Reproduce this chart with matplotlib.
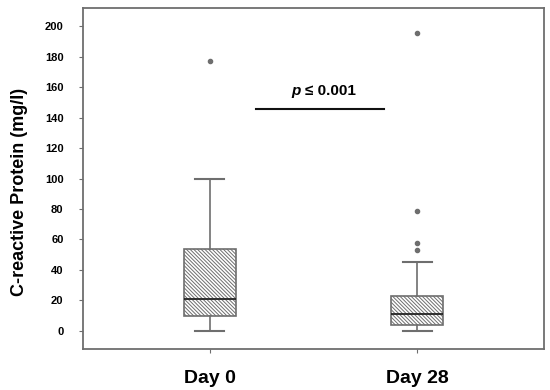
import matplotlib.pyplot as plt

plt.rcParams['font.family'] = ['Liberation Sans', 'DejaVu Sans']
plt.rcParams['hatch.color'] = '#555555'
plt.rcParams['hatch.linewidth'] = 0.7

# data
groups = ['Day 0', 'Day 28']
q1 = [10, 4]
med = [21, 11]
q3 = [54, 23]
whislo = [0, 0]
whishi = [100, 45]
fliers = [[177.5], [53, 57.5, 79, 195.5]]
p_level = 146

stats = []
for i, g in enumerate(groups):
    stats.append(dict(label=g, q1=q1[i], med=med[i], q3=q3[i],
                      whislo=whislo[i], whishi=whishi[i], fliers=fliers[i]))

fig = plt.figure(figsize=(5.5, 3.9), dpi=100)
ax = fig.add_axes([0.151, 0.105, 0.838, 0.874])

gray = '#6e6e6e'
bp = ax.bxp(stats, positions=[1, 2], widths=0.255, patch_artist=True,
            boxprops=dict(facecolor='white', edgecolor=gray, linewidth=1.2),
            medianprops=dict(color='#222222', linewidth=1.3),
            whiskerprops=dict(color=gray, linewidth=1.2),
            capprops=dict(color=gray, linewidth=1.5),
            capwidths=0.14,
            flierprops=dict(marker='o', markersize=3, markerfacecolor=gray,
                            markeredgecolor=gray))
for b in bp['boxes']:
    b.set_hatch('\\' * 9)

# significance bar
ax.plot([1.22, 1.84], [p_level, p_level], color='#111111', linewidth=1.5)
ax.text(1.44, p_level + 7, 'p', fontsize=11, fontweight='bold',
        fontstyle='italic', ha='right', va='bottom')
ax.text(1.46, p_level + 7, '≤ 0.001', fontsize=11, fontweight='bold',
        ha='left', va='bottom')

ax.set_xlim(0.387, 2.613)
ax.set_ylim(-12, 212)
ax.set_yticks(range(0, 201, 20))
ax.set_yticklabels([str(v) for v in range(0, 201, 20)], fontsize=8,
                   fontweight='bold')
ax.set_xticklabels(groups, fontsize=14, fontweight='bold')
ax.tick_params(axis='y', length=3, pad=11, color=gray)
ax.tick_params(axis='x', length=3, pad=12, color=gray)
for s in ax.spines.values():
    s.set_color(gray)
    s.set_linewidth(1.3)

ax.set_ylabel('C-reactive Protein (mg/l)', fontsize=13, fontweight='bold',
              labelpad=12)
ax.yaxis.label.set_y(0.46)

fig.savefig('out.png', dpi=100)
